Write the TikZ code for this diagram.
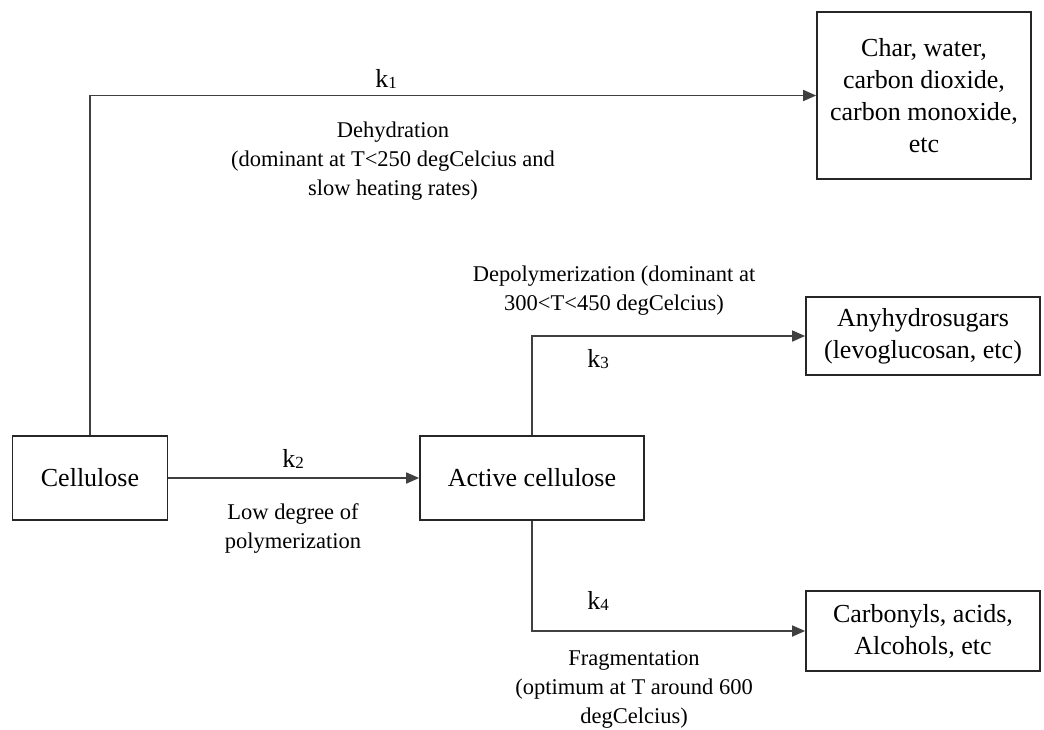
\documentclass[tikz,border=0pt]{standalone}
\usepackage{fontspec}
\setmainfont{Liberation Serif}
\usetikzlibrary{arrows.meta}
\tikzset{
  stage/.style={draw=black!85, line width=1.7pt, align=center, inner sep=0pt,
    font=\fontsize{26}{32}\selectfont},
  note/.style={align=center, inner sep=0pt, font=\fontsize{22.5}{29}\selectfont},
  rate/.style={inner sep=0pt, font=\fontsize{26}{30}\selectfont},
  flow/.style={draw=black!75, line width=1.7pt, -{Triangle[length=13pt,width=11pt]}},
}
\newcommand{\kk}[1]{k\raisebox{-0.15ex}{\fontsize{17}{20}\selectfont #1}}
\begin{document}
\begin{tikzpicture}[x=1pt,y=-1pt]
\useasboundingbox (0,0) rectangle (1044,729);

% reactant and intermediate
\node[stage, minimum width=155pt, minimum height=84pt] (cell) at (90,478) {Cellulose};
\node[stage, minimum width=224pt, minimum height=84pt] (act) at (532,478) {Active cellulose};

% product groups
\node[stage, minimum width=214pt, minimum height=167pt] (char) at (924,95.5)
  {Char, water,\\carbon dioxide,\\carbon monoxide,\\etc};
\node[stage, minimum width=234pt, minimum height=78pt] (anh) at (923,336)
  {Anyhydrosugars\\(levoglucosan, etc)};
\node[stage, minimum width=234pt, minimum height=80pt] (carb) at (923,631)
  {Carbonyls, acids,\\Alcohols, etc};

% reaction paths
\draw[flow] (cell.north) |- (char.west);
\draw[flow] (cell.east) -- (act.west);
\draw[flow] (act.north) |- (anh.west);
\draw[flow] (act.south) |- (carb.west);

% rate constants
\node[rate] (k1) at (386,79) {\kk{1}};
\node[rate] (k2) at (293,459) {\kk{2}};
\node[rate] (k3) at (598,359) {\kk{3}};
\node[rate] (k4) at (598,601) {\kk{4}};

% path descriptions
\node[note] (dehyd) at (393,161)
  {Dehydration\\(dominant at T<250 degCelcius and\\slow heating rates)};
\node[note] (depol) at (614,291)
  {Depolymerization (dominant at\\300<T<450 degCelcius)};
\node[note] (lowdp) at (293,528) {Low degree of\\polymerization};
\node[note] (frag) at (634,689)
  {Fragmentation\\(optimum at T around 600\\degCelcius)};
\end{tikzpicture}
\end{document}
